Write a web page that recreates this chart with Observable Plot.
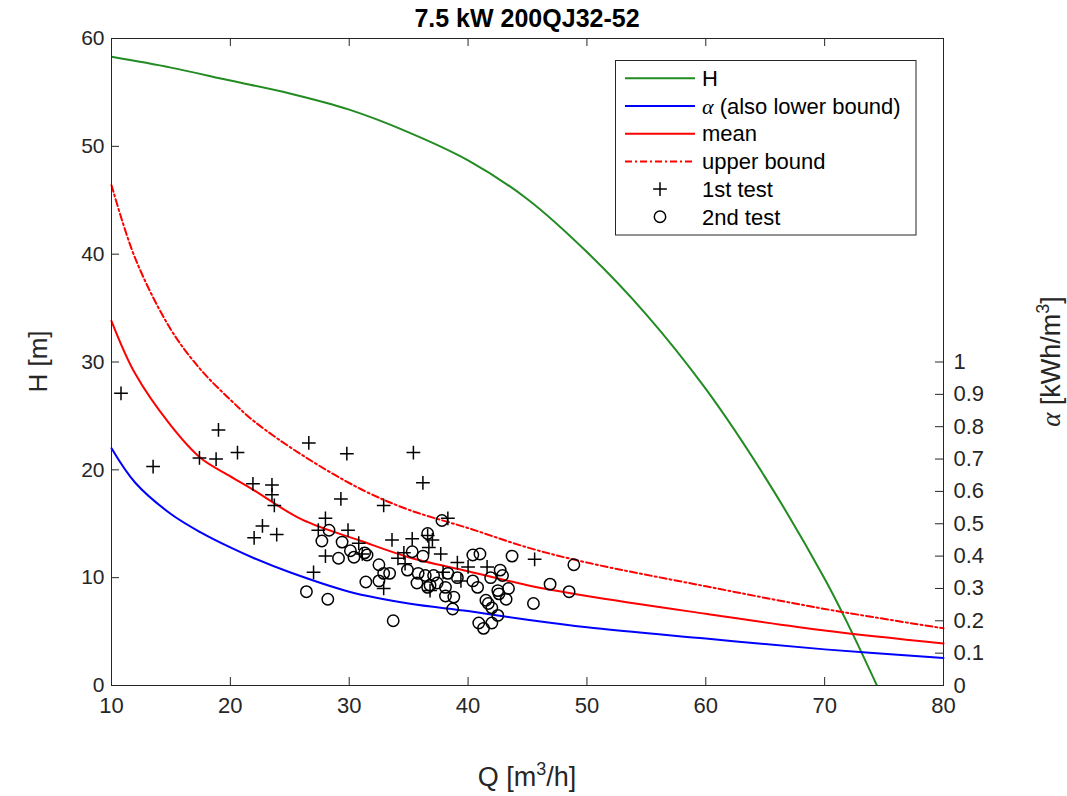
<!DOCTYPE html>
<html><head><meta charset="utf-8">
<script src="https://cdn.jsdelivr.net/npm/d3@7"></script>
<script src="https://cdn.jsdelivr.net/npm/@observablehq/plot@0.6"></script>
<style>
html,body{margin:0;padding:0;background:#fff;overflow:hidden}
svg{display:block}
</style>
</head><body><div id="chart"></div>
<script>
// ---- data ----
const titleText = "7.5 kW 200QJ32-52";
const qTicks = [10, 20, 30, 40, 50, 60, 70, 80];
const hTicks = [0, 10, 20, 30, 40, 50, 60];
const alphaTicks = [0, 0.1, 0.2, 0.3, 0.4, 0.5, 0.6, 0.7, 0.8, 0.9, 1];
const alphaToH = 30; // right axis: alpha 1 kWh/m3 sits at H = 30 m

// pump head curve H(Q)
const pumpQ = [10, 15, 20, 25, 30, 35, 40, 45, 50, 55, 60, 65, 70, 72, 74.4];
const pumpH = [58.3, 57.3, 56.1, 54.9, 53.4, 51.3, 48.7, 45.1, 40.2, 34.4, 27.5, 19.3, 9.9, 5.6, 0];

// alpha curves, drawn in H units (alpha * 30)
const lowQ = [10, 12, 15, 17.5, 20, 22, 25, 30, 35, 40, 45, 50, 60, 70, 80];
const lowH = [22.0, 18.8, 15.9, 14.2, 12.8, 11.8, 10.5, 8.7, 7.6, 6.9, 6.1, 5.4, 4.35, 3.35, 2.55];
const meanQ = [10, 12, 15, 17.5, 20, 22, 26, 31, 35, 40, 45, 50, 60, 70, 80];
const meanH = [33.8, 28.9, 24.1, 21.1, 19.4, 18.1, 15.4, 13.4, 11.9, 10.6, 9.3, 8.3, 6.65, 5.1, 3.9];
const upQ = [10, 12, 15, 17.5, 20, 22, 26, 31, 35, 40, 45, 50, 60, 70, 80];
const upH = [46.4, 39.6, 33.0, 29.3, 26.5, 24.5, 21.4, 18.2, 16.3, 14.6, 12.8, 11.4, 9.2, 7.1, 5.3];

// 1st test (+)
const test1Q = [10.8, 13.5, 17.4, 18.8, 19.0, 20.6, 21.9, 22.0, 22.7, 23.5, 23.5, 23.7, 23.9, 26.6, 27.0, 27.4, 28.0, 28.0, 29.3, 29.8, 29.9, 30.8, 31.1, 32.9, 32.9, 33.6, 34.1, 34.6, 34.7, 35.3, 35.4, 36.2, 36.6, 37.0, 36.7, 37.7, 37.9, 36.8, 38.3, 39.1, 39.4, 40.0, 41.6, 45.6];
const test1H = [27.1, 20.3, 21.1, 21.0, 23.7, 21.6, 18.7, 13.7, 14.8, 18.6, 17.7, 16.7, 14.0, 22.5, 10.5, 14.4, 15.5, 12.0, 17.3, 21.5, 14.4, 13.2, 12.2, 16.7, 9.0, 13.5, 11.8, 12.3, 11.3, 13.6, 21.6, 18.8, 13.9, 13.5, 12.8, 12.2, 10.5, 8.8, 15.5, 11.4, 9.7, 11.0, 11.0, 11.7];

// 2nd test (o)
const test2Q = [26.4, 27.7, 28.2, 28.3, 29.1, 29.4, 30.1, 30.4, 31.3, 31.5, 31.4, 32.5, 32.5, 32.9, 33.4, 33.7, 35.3, 34.9, 35.8, 35.7, 36.2, 36.6, 36.4, 37.1, 36.8, 36.6, 37.4, 38.1, 38.3, 38.1, 38.8, 38.7, 37.8, 39.1, 40.4, 41.0, 43.7, 48.9, 42.7, 42.9, 41.9, 40.4, 40.8, 42.5, 42.6, 43.4, 43.2, 41.5, 41.7, 42.0, 42.5, 40.9, 41.3, 42.0, 46.9, 48.5, 45.5];
const test2H = [8.7, 13.4, 8.0, 14.4, 11.8, 13.3, 12.5, 11.9, 12.3, 12.1, 9.6, 11.2, 9.7, 10.4, 10.4, 6.0, 12.4, 10.7, 10.4, 9.5, 12.0, 14.1, 10.2, 10.2, 9.3, 9.1, 9.5, 9.1, 10.4, 8.3, 8.2, 7.1, 15.3, 10.0, 12.1, 12.2, 12.0, 11.2, 10.7, 10.2, 10.0, 9.7, 9.1, 8.8, 8.5, 9.0, 8.0, 7.9, 7.6, 7.2, 6.5, 5.8, 5.3, 5.8, 9.4, 8.7, 7.6];

const legendLabels = ["H", "(also lower bound)", "mean", "upper bound", "1st test", "2nd test"];
const colors = {pump: "#228b22", low: "#0000ff", mean: "#ff0000", up: "#ff0000"};

// ---- layout ----
const W = 1067, HT = 796;
const mL = 111, mR = 124, mT = 38, mB = 111;
const xDom = [qTicks[0], qTicks[qTicks.length - 1]];
const yDom = [hTicks[0], hTicks[hTicks.length - 1]];
const tickPx = 8;
const tX = tickPx * (xDom[1] - xDom[0]) / (W - mL - mR);
const tY = tickPx * (yDom[1] - yDom[0]) / (HT - mT - mB);
const font = "'Liberation Sans', Arial, Helvetica, sans-serif";
const serif = "'Liberation Serif', 'DejaVu Serif', serif";
const ink = "#262626";

const zip = (qs, hs) => qs.map((q, i) => ({q, h: hs[i]}));
const pump = zip(pumpQ, pumpH), low = zip(lowQ, lowH), mean = zip(meanQ, meanH), up = zip(upQ, upH);
const t1 = zip(test1Q, test1H), t2 = zip(test2Q, test2H);

const svg = Plot.plot({
  width: W, height: HT,
  marginLeft: mL, marginRight: mR, marginTop: mT, marginBottom: mB,
  x: {domain: xDom},
  y: {domain: yDom},
  style: {fontFamily: font, fontSize: "22px", color: ink, background: "#fff"},
  marks: [
    Plot.line(pump, {x: "q", y: "h", stroke: colors.pump, strokeWidth: 2, curve: "catmull-rom", clip: true}),
    Plot.line(low, {x: "q", y: "h", stroke: colors.low, strokeWidth: 2, curve: "catmull-rom"}),
    Plot.line(mean, {x: "q", y: "h", stroke: colors.mean, strokeWidth: 2, curve: "catmull-rom"}),
    Plot.line(up, {x: "q", y: "h", stroke: colors.up, strokeWidth: 2, curve: "catmull-rom", strokeDasharray: "7,3,2,3"}),
    Plot.dot(t1, {x: "q", y: "h", symbol: "plus", r: 4.5, stroke: "#000", strokeWidth: 1.5}),
    Plot.dot(t2, {x: "q", y: "h", r: 5.7, stroke: "#000", strokeWidth: 1.5, fill: "none"}),
    Plot.frame({stroke: ink, strokeWidth: 1}),
    // inward ticks
    Plot.ruleY(hTicks, {y: d => d, x1: xDom[0], x2: xDom[0] + tX, stroke: ink}),
    Plot.ruleX(qTicks, {x: d => d, y1: yDom[0], y2: yDom[0] + tY, stroke: ink}),
    Plot.ruleX(qTicks, {x: d => d, y1: yDom[1] - tY, y2: yDom[1], stroke: ink}),
    Plot.ruleY(alphaTicks, {y: d => d * alphaToH, x1: xDom[1] - tX, x2: xDom[1], stroke: ink}),
    // tick labels
    Plot.axisY(hTicks, {tickSize: 0, tickPadding: 7, label: null, fontSize: 21, fill: ink}),
    Plot.axisX(qTicks, {tickSize: 0, tickPadding: 12, label: null, fontSize: 22, fill: ink}),
    Plot.text(alphaTicks, {y: d => d * alphaToH, frameAnchor: "right", text: d => String(d), textAnchor: "start", dx: 10, fontSize: 22, fill: ink})
  ]
});

const s = d3.select(svg);
const cx = mL + (W - mL - mR) / 2;
const cy = mT + (HT - mT - mB) / 2;
// title
s.append("text").attr("x", cx).attr("y", 27).attr("text-anchor", "middle")
  .attr("font-weight", "bold").attr("font-size", 25).attr("fill", "#000").text(titleText);
// x label
const xl = s.append("text").attr("x", cx).attr("y", 786).attr("text-anchor", "middle").attr("font-size", 27).attr("fill", ink);
xl.append("tspan").text("Q [m");
xl.append("tspan").attr("font-size", 18).attr("dy", -11).text("3");
xl.append("tspan").attr("dy", 11).text("/h]");
// left y label
s.append("text").attr("transform", `translate(47,${cy}) rotate(-90)`).attr("text-anchor", "middle")
  .attr("font-size", 26).attr("fill", ink).text("H [m]");
// right y label
const yr = s.append("text").attr("transform", `translate(1060,${cy}) rotate(-90)`).attr("text-anchor", "middle")
  .attr("font-size", 27).attr("fill", ink);
yr.append("tspan").attr("font-family", serif).attr("font-style", "italic").text("α");
yr.append("tspan").text(" [kWh/m");
yr.append("tspan").attr("font-size", 18).attr("dy", -11).text("3");
yr.append("tspan").attr("dy", 11).text("]");

// legend
const lg = s.append("g");
lg.append("rect").attr("x", 615.5).attr("y", 60.5).attr("width", 300.5).attr("height", 174.5)
  .attr("fill", "#fff").attr("stroke", ink).attr("stroke-width", 1);
const rowY = i => 78.3 + i * 27.7;
const lineStyles = [
  {stroke: colors.pump}, {stroke: colors.low}, {stroke: colors.mean}, {stroke: colors.up, dash: "7,3,2,3"}
];
lineStyles.forEach((st, i) => {
  lg.append("line").attr("x1", 625).attr("x2", 695).attr("y1", rowY(i)).attr("y2", rowY(i))
    .attr("stroke", st.stroke).attr("stroke-width", 2).attr("stroke-dasharray", st.dash || null);
});
const plus = d3.symbol(d3.symbolPlus, Math.PI * 4.5 * 4.5)();
lg.append("path").attr("d", plus).attr("transform", `translate(660,${rowY(4)})`).attr("fill", "none").attr("stroke", "#000").attr("stroke-width", 1.5);
lg.append("circle").attr("cx", 660).attr("cy", rowY(5)).attr("r", 5.7).attr("fill", "none").attr("stroke", "#000").attr("stroke-width", 1.5);
legendLabels.forEach((lab, i) => {
  const t = lg.append("text").attr("x", 702).attr("y", rowY(i)).attr("dy", "0.35em")
    .attr("text-anchor", "start").attr("font-size", 22).attr("fill", "#000");
  if (i === 1) {
    t.append("tspan").attr("font-family", serif).attr("font-style", "italic").text("α");
    t.append("tspan").text(" " + lab);
  } else t.text(lab);
});

document.getElementById("chart").appendChild(svg);
</script>
</body></html>
